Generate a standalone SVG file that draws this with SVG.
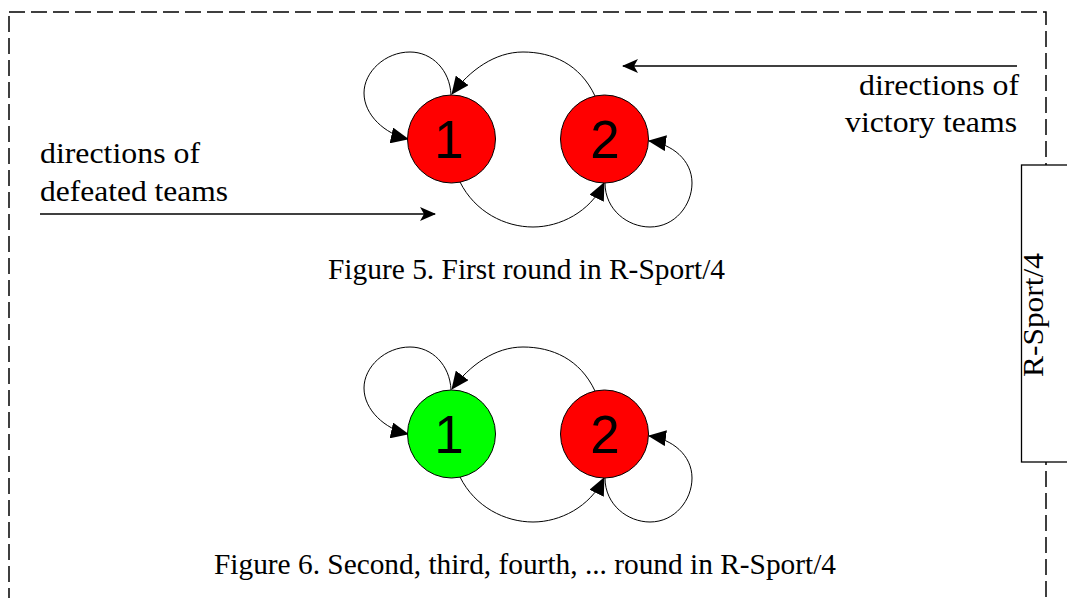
<svg xmlns="http://www.w3.org/2000/svg" width="1067" height="598" viewBox="0 0 1067 598">
<defs>
<marker id="tri" viewBox="0 0 18 16" refX="17" refY="8" markerWidth="18" markerHeight="16" markerUnits="userSpaceOnUse" orient="auto">
<path d="M0,0 L18,8 L0,16 z" fill="#000"/>
</marker>
<marker id="stealth" viewBox="0 0 16 14" refX="15" refY="7" markerWidth="16" markerHeight="14" markerUnits="userSpaceOnUse" orient="auto">
<path d="M0,0 L16,7 L0,14 L4,7 z" fill="#000"/>
</marker>
</defs>
<style>
.lbl{font-family:"Liberation Serif","Times New Roman",serif;font-size:30px;fill:#000}
.num{font-family:"Liberation Sans",Arial,sans-serif;font-size:53px;fill:#000;text-anchor:middle}
.node{stroke:#000;stroke-width:1}
.red{fill:#FF0000}
.green{fill:#00FF00}
.arc{fill:none;stroke:#000;stroke-width:1;marker-end:url(#tri)}
.dir{fill:none;stroke:#000;stroke-width:1.5;marker-end:url(#stealth)}
</style>
<rect width="1067" height="598" fill="#fff"/>
<rect id="frame" x="9" y="12" width="1037" height="700" fill="none" stroke="#000" stroke-width="1.5" stroke-dasharray="16 6"/>
<g id="sidebox">
<rect x="1021.5" y="165" width="60" height="297" fill="#fff" stroke="#000" stroke-width="1.3"/>
<text class="lbl" transform="translate(1043,315) rotate(-90)" text-anchor="middle" textLength="124" lengthAdjust="spacingAndGlyphs">R-Sport/4</text>
</g>
<g id="connectors">
<path class="arc" d="M451,95 C450,70 432,52 410,52 C385,52 364,72 364,93 C364,115 385,134 408,139"/>
<path class="arc" d="M595,96 C580,64 552,52 523,52 C495,52 470,70 452,94"/>
<path class="arc" d="M460,182 C475,212 505,227 533,227 C560,227 590,212 604,183"/>
<path class="arc" d="M605,183 C605,210 628,227 650,227 C675,227 692,205 692,183 C692,160 672,144 649,141"/>
<path class="arc" d="M451,390 C450,365 432,347 410,347 C385,347 364,367 364,388 C364,410 385,429 408,434"/>
<path class="arc" d="M595,391 C580,359 552,347 523,347 C495,347 470,365 452,389"/>
<path class="arc" d="M460,477 C475,507 505,522 533,522 C560,522 590,507 604,478"/>
<path class="arc" d="M605,478 C605,505 628,522 650,522 C675,522 692,500 692,478 C692,455 672,439 649,436"/>
<path class="dir" d="M1017,66 L623,66"/>
<path class="dir" d="M40,214 L435,214"/>
</g>
<g id="f5n1"><circle class="node red" cx="451.5" cy="139" r="44"/><text class="num" x="449" y="158">1</text></g>
<g id="f5n2"><circle class="node red" cx="604.5" cy="139" r="44"/><text class="num" x="605" y="158">2</text></g>
<g id="f6n1"><circle class="node green" cx="451.5" cy="434" r="44"/><text class="num" x="449" y="453">1</text></g>
<g id="f6n2"><circle class="node red" cx="604.5" cy="434" r="44"/><text class="num" x="605" y="453">2</text></g>
<g id="labels">
<text class="lbl" x="40" y="163" textLength="160" lengthAdjust="spacingAndGlyphs">directions of</text>
<text class="lbl" x="40" y="201" textLength="188" lengthAdjust="spacingAndGlyphs">defeated teams</text>
<text class="lbl" x="859" y="95" textLength="160" lengthAdjust="spacingAndGlyphs">directions of</text>
<text class="lbl" x="845" y="132" textLength="172" lengthAdjust="spacingAndGlyphs">victory teams</text>
<text class="lbl" x="328" y="279" textLength="397" lengthAdjust="spacingAndGlyphs">Figure 5. First round in R-Sport/4</text>
<text class="lbl" x="214" y="574" textLength="622" lengthAdjust="spacingAndGlyphs">Figure 6. Second, third, fourth, ... round in R-Sport/4</text>
</g>
</svg>
